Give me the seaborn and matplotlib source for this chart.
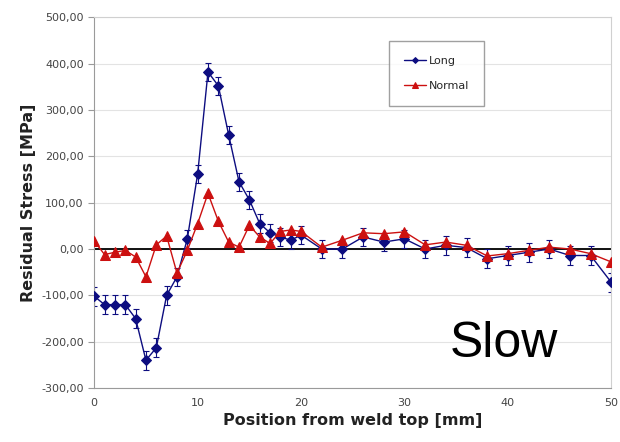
import numpy as np
import pandas as pd
import matplotlib
matplotlib.use("Agg")
import matplotlib.pyplot as plt
from matplotlib.ticker import FuncFormatter
import seaborn as sns

# positions along the weld [mm]
position = [0, 1, 2, 3, 4, 5, 6, 7, 8, 9, 10, 11, 12, 13, 14, 15, 16, 17, 18, 19, 20,
            22, 24, 26, 28, 30, 32, 34, 36, 38, 40, 42, 44, 46, 48, 50]

long_stress = [-102, -120, -120, -120, -150, -240, -213, -100, -60, 22, 162, 382, 352, 246, 145, 106,
               55, 35, 26, 19, 30, 0, 0, 26, 15, 22, 0, 8, 3, -21, -14, -7, 0, -14, -14, -72]
long_err = [20] * len(position)

normal_stress = [17, -12, -7, -3, -17, -60, 9, 28, -52, -3, 55, 120, 60, 15, 4, 51,
                 26, 12, 38, 41, 38, 4, 19, 35, 33, 37, 9, 15, 8, -15, -10, -3, 4, 0, -10, -28]

df = pd.DataFrame({
    "Position": position * 2,
    "Stress": long_stress + normal_stress,
    "Series": ["Long"] * len(position) + ["Normal"] * len(position),
})

sns.set_style("white")
plt.rcParams["font.family"] = ["DejaVu Sans"]

fig = plt.figure(figsize=(6.2, 4.42), dpi=100)
ax = fig.add_axes([0.152, 0.122, 0.834, 0.839])

ax.errorbar(position, long_stress, yerr=long_err, fmt="none", ecolor="#0d0d80",
            elinewidth=0.8, capsize=2.5, capthick=0.8, zorder=2)

sns.lineplot(data=df[df["Series"] == "Long"], x="Position", y="Stress", label="Long",
             color="#0d0d80", marker="D", markersize=5, linewidth=1,
             markeredgecolor="#0d0d80", ax=ax, zorder=3)
sns.lineplot(data=df[df["Series"] == "Normal"], x="Position", y="Stress", label="Normal",
             color="#cc1010", marker="^", markersize=6.5, linewidth=1,
             markeredgecolor="#cc1010", ax=ax, zorder=3)

ax.axhline(0, color="black", linewidth=1.3, zorder=1)

ax.set_xlim(0, 50)
ax.set_ylim(-300, 500)
ax.set_xticks(range(0, 51, 10))
ax.set_yticks(range(-300, 501, 100))
ax.yaxis.set_major_formatter(FuncFormatter(lambda v, p: f"{v:.2f}".replace(".", ",")))
ax.grid(axis="y", color="#e3e3e3", linewidth=0.8)
ax.set_axisbelow(True)

for side in ["top", "right"]:
    ax.spines[side].set_color("#d0d0d0")
for side in ["left", "bottom"]:
    ax.spines[side].set_color("#9a9a9a")
ax.tick_params(axis="y", left=True, length=4, color="#9a9a9a", labelsize=8, labelcolor="#444444")
ax.tick_params(axis="x", bottom=False, labelsize=8, labelcolor="#444444")

ax.set_xlabel("Position from weld top [mm]", fontsize=11.5, fontweight="bold", color="#222222")
ax.set_ylabel("Residual Stress [MPa]", fontsize=11.5, fontweight="bold", color="#222222")

leg = ax.legend(title=None, loc="upper left", bbox_to_anchor=(0.56, 0.95), fontsize=8,
                frameon=True, fancybox=False, edgecolor="#888888", borderpad=1.3,
                labelspacing=1.4, handlelength=2, handletextpad=0.3, markerscale=0.6)
for line in leg.get_lines():
    line.set_linewidth(1)

ax.text(39.6, -232, "Slow", fontsize=36, ha="center", va="baseline", color="black",
        family="Liberation Sans")

fig.savefig("out.png", dpi=100)
